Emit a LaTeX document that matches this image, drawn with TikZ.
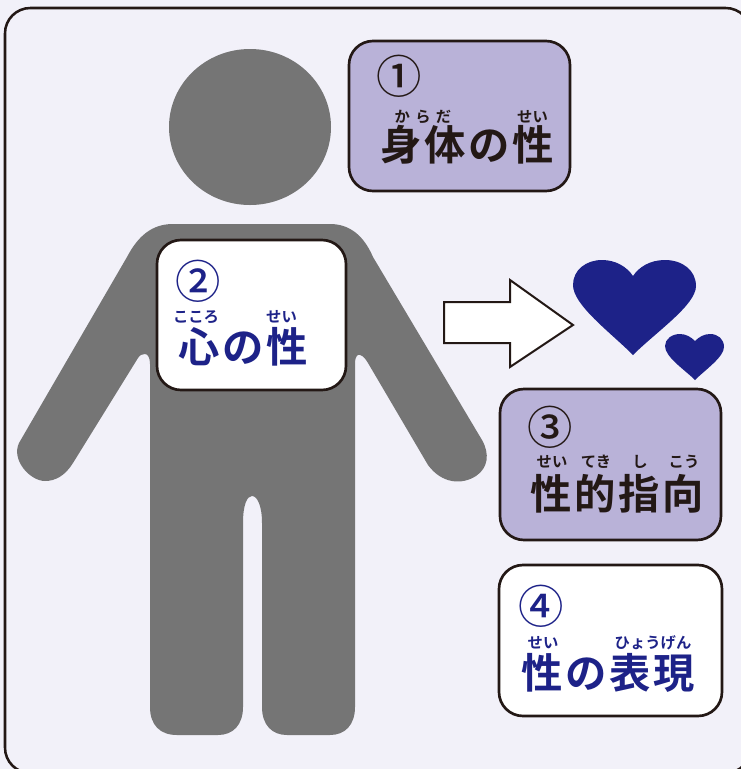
\documentclass[tikz,border=0pt]{standalone}
\usepackage{fontspec}
\newfontfamily\cjk[LetterSpace=6]{Noto Sans CJK JP Bold}
\newfontfamily\cjkm{Noto Sans CJK JP Bold}
\newfontfamily\cjkn{Noto Sans CJK JP Medium}
\definecolor{pagebg}{HTML}{F2F1F9}
\definecolor{lilac}{HTML}{B9B2D8}
\definecolor{navy}{HTML}{1D2288}
\definecolor{ink}{HTML}{231815}
\definecolor{figgray}{HTML}{757575}
\tikzset{
 x=0.75pt,y=-0.75pt,
 card/.style={draw=ink,line width=2pt,rounded corners=18pt},
 big/.style={font=\cjk\fontsize{31}{31}\selectfont,inner sep=0pt,anchor=center},
 ruby/.style={font=\cjkm\fontsize{11.5}{12}\selectfont,inner sep=0pt,anchor=center},
 num/.style={font=\cjkn\fontsize{34}{34}\selectfont,inner sep=0pt,anchor=center},
}
\begin{document}
\begin{tikzpicture}
\useasboundingbox (0,0) rectangle (741,769);
\fill[pagebg] (0,0) rectangle (741,769);
\draw[ink,line width=1.9pt,rounded corners=19pt] (5,8) -- (751,8) -- (751,773) -- (5,773) -- cycle;
\fill[figgray] (250,127) ellipse [x radius=81,y radius=78];
\fill[figgray] (173,224) -- (330,224)
 .. controls (350,224) and (364,236) .. (373,257)
 -- (482,440) .. controls (490,454) and (488,468) .. (476,476)
 .. controls (462,485) and (442,484) .. (428,465)
 -- (368,363) .. controls (364,356) and (360,354) .. (358,355)
 .. controls (356,356) and (355,359) .. (355,364)
 -- (355,707) .. controls (355,725) and (345,735) .. (330,735)
 -- (287,735) .. controls (272,735) and (262,725) .. (262,707)
 -- (262,523) .. controls (262,505) and (257,496) .. (252,496)
 .. controls (247,496) and (243,505) .. (243,523)
 -- (243,707) .. controls (243,725) and (233,735) .. (218,735)
 -- (177,735) .. controls (160,735) and (150,725) .. (150,707)
 -- (150,364) .. controls (150,358) and (148,354) .. (145,354)
 .. controls (142,354) and (140,355) .. (138,358)
 -- (73,463) .. controls (65,476) and (55,481) .. (45,481)
 .. controls (30,481) and (11,460) .. (19,443)
 -- (127,257) .. controls (138,236) and (152,224) .. (173,224) -- cycle;
\draw[card,fill=lilac] (349,41) rectangle (570,191);
\draw[card,fill=white] (157,240) rectangle (346,390);
\draw[card,fill=lilac] (500,389) rectangle (721,540);
\draw[card,fill=white] (499,565) rectangle (722,716);
% arrow
\coordinate (a0) at (444,302);
\draw[ink,line width=1.5pt,fill=white,line join=miter] (a0) -- (510,302) -- (510,280) -- (573,325) -- (510,367) -- (510,343) -- (444,343) -- cycle;
% hearts
\fill[navy] (633,355) .. controls (610,332) and (573,305) .. (573,285)
 .. controls (573,270) and (586,260) .. (602,260)
 .. controls (616,260) and (627,267) .. (633,276)
 .. controls (639,267) and (650,260) .. (665,260)
 .. controls (682,260) and (696,270) .. (696,286)
 .. controls (696,305) and (656,332) .. (633,355) -- cycle;
\fill[navy] (695,380) .. controls (685,370) and (665,357) .. (665,346)
 .. controls (665,339) and (672,334) .. (680,334)
 .. controls (686,334) and (691,337) .. (695,341)
 .. controls (699,337) and (704,334) .. (710,334)
 .. controls (718,334) and (724,339) .. (724,347)
 .. controls (724,357) and (705,370) .. (695,380) -- cycle;
% text 1
\node[num,ink] (n1) at (399,76) {①};
\node[ruby,ink] (r1a) at (423,117) {か\hspace{4pt}ら\hspace{4pt}だ};
\node[ruby,ink] (r1b) at (532.5,117) {せい};
\node[big,ink] (t1) at (467,145) {身体の性};
% text 2
\node[num,navy] (n2) at (198,281) {②};
\node[ruby,navy] (r2a) at (196,317) {こころ};
\node[ruby,navy] (r2b) at (281.5,317) {せい};
\node[big,navy] (t2) at (243,347) {心の性};
% text 3
\node[num,ink] (n3) at (550,427) {③};
\node[ruby,ink] (r3a) at (552,462) {せい};
\node[ruby,ink] (r3b) at (596,462) {てき};
\node[ruby,ink] (r3c) at (640,462) {し};
\node[ruby,ink] (r3d) at (684,462) {こう};
\node[big,ink] (t3) at (617,494) {性的指向};
% text 4
\node[num,navy] (n4) at (541,606) {④};
\node[ruby,navy] (r4a) at (543,643) {せい};
\node[ruby,navy] (r4b) at (653,643) {ひょうげん};
\node[big,navy] (t4) at (608,673) {性の表現};
\end{tikzpicture}
\end{document}
